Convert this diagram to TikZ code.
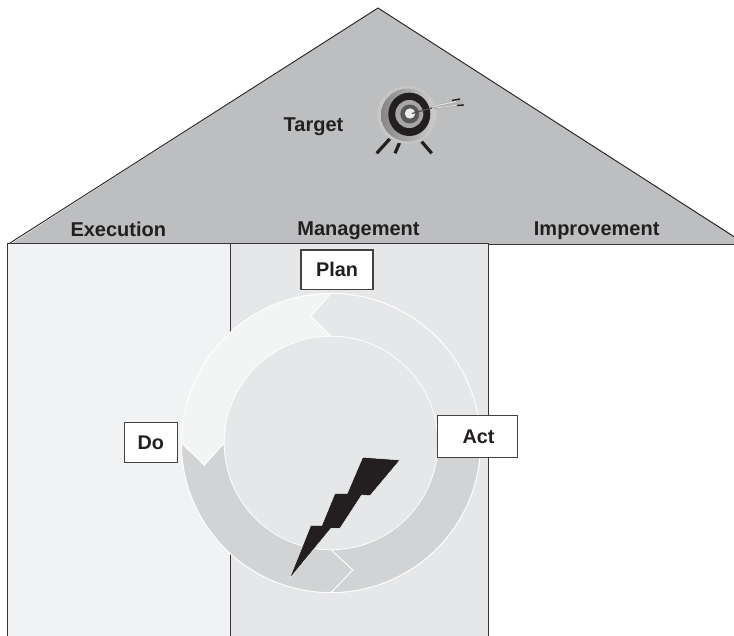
\documentclass[tikz,border=0pt]{standalone}
\usepackage{fontspec}
\setmainfont{Liberation Sans}
\definecolor{roof}{HTML}{BCBEC0}
\definecolor{lpanel}{HTML}{F1F2F4}
\definecolor{rpanel}{HTML}{E6E7E9}
\definecolor{ringlight}{HTML}{F3F5F5}
\definecolor{ringdark}{HTML}{D1D3D4}
\definecolor{ink}{HTML}{231F20}
\tikzset{
  x=1pt,y=-1pt,
  outl/.style={draw=ink!90,line width=1pt},
  lbl/.style={font=\fontsize{20}{22}\selectfont\bfseries,text=ink,inner sep=0pt,anchor=base},
  phase/.style={draw=ink!85,line width=1.1pt,fill=white,inner sep=0pt,anchor=center},
  phasetxt/.style={font=\fontsize{19.8}{22}\selectfont\bfseries,text=ink,inner sep=0pt,anchor=base},
  seg/.style={draw=white,line width=0.8pt},
  leg/.style={ink,line width=3.2pt}
}
\begin{document}
\begin{tikzpicture}
\useasboundingbox (0,0) rectangle (734,635);
\path[clip] (0,0) rectangle (734,635);
% roof
\fill[roof] (378,8) -- (747,244.5) -- (10,244.5) -- cycle;
\draw[ink,line width=0.9pt] (10,243) -- (378,8) -- (747,245);
\draw[outl,line width=1.2pt] (488,244.3) -- (740,244.3);
% panels
\draw[outl,fill=lpanel] (7.5,636) -- (7.5,243) -- (230,243) -- (230,636);
\draw[outl,fill=rpanel] (230,636) -- (230,243) -- (488.4,243) -- (488.4,636);
% ring
\def\cx{331}\def\cy{443}\def\Ro{149.5}\def\Ri{106.8}
\fill[white] (\cx,\cy) circle[radius=\Ro+0.5];
\draw[seg,fill=rpanel] (\cx,\cy-\Ro) arc[start angle=-90,end angle=0,radius=\Ro] -- (\cx+\Ro-21,\cy+14) -- (\cx+\Ri,\cy) arc[start angle=0,end angle=-90,radius=\Ri] -- (310.7,316) -- cycle;
\draw[seg,fill=ringdark] (\cx+\Ro,\cy) arc[start angle=0,end angle=90,radius=\Ro] -- (352.7,570) -- (\cx,\cy+\Ri) arc[start angle=90,end angle=0,radius=\Ri] -- cycle;
\draw[seg,fill=ringdark] (\cx,\cy+\Ro) arc[start angle=90,end angle=180,radius=\Ro] -- (204.3,465) -- (\cx-\Ri,\cy) arc[start angle=180,end angle=90,radius=\Ri] -- (352.7,570) -- cycle;
\draw[seg,fill=ringlight] (\cx-\Ro,\cy) arc[start angle=180,end angle=270,radius=\Ro] -- (310.7,316) -- (\cx,\cy-\Ri) arc[start angle=270,end angle=180,radius=\Ri] -- (204.3,465) -- cycle;
\fill[rpanel] (\cx,\cy) circle[radius=\Ri-0.5];
% lightning
\draw[white,line width=0.4pt,fill=ink] (362.7,457.3) -- (400,460) -- (370,495.7) -- (361.7,495) -- (340,528.3) -- (331,528.3) -- (289.3,579) -- (310.7,525.7) -- (321.7,525.7) -- (335,493.3) -- (347.3,493.3) -- cycle;
% target icon
\draw[leg] (391.7,136.7) -- (376.7,153.3);
\draw[leg] (400,141.7) -- (395,153.3);
\draw[leg] (421.7,141.7) -- (431.7,153.3);
\fill[gray!45] (407,115) ellipse[x radius=30,y radius=29];
\shade[left color=gray!95,right color=gray!40] (408,115) ellipse[x radius=27,y radius=26.5];
\fill[ink] (409.3,114.3) ellipse[x radius=21,y radius=21.7];
\fill[gray!70] (409.3,114) circle[radius=14];
\fill[ink!75] (409.8,114) circle[radius=9.5];
\fill[gray!15] (410,113.5) circle[radius=5.2];
\fill[gray!60] (431,106) -- (459,99) -- (464,105.5) -- (435,109.5) -- cycle;
\draw[gray!20,line width=0.9pt] (433,106.5) -- (456,101.5);
\draw[gray!25,line width=0.7pt] (436,108) -- (458,105);
\draw[ink!80,line width=1.2pt] (412,113.5) -- (432,108);
\draw[ink,line width=1.4pt] (452,100.5) -- (460,99);
\draw[ink,line width=1.4pt] (457,105.5) -- (464,105);
% labels
\node[lbl] (target) at (313.5,131) {Target};
\node[lbl] (exec) at (118.3,236) {Execution};
\node[lbl] (mgmt) at (358.5,235) {Management};
\node[lbl] (impr) at (596.7,235) {Improvement};
\node[phase,minimum width=72pt,minimum height=39.5pt] (plan) at (337,269.7) {};
\node[phase,minimum width=53pt,minimum height=40pt] (do) at (150.8,442.3) {};
\node[phase,minimum width=80pt,minimum height=41.6pt] (act) at (477.5,436.5) {};
\node[phasetxt] at (337,276) {Plan};
\node[phasetxt] at (150.7,449) {Do};
\node[phasetxt] at (478.5,443) {Act};
\end{tikzpicture}
\end{document}
